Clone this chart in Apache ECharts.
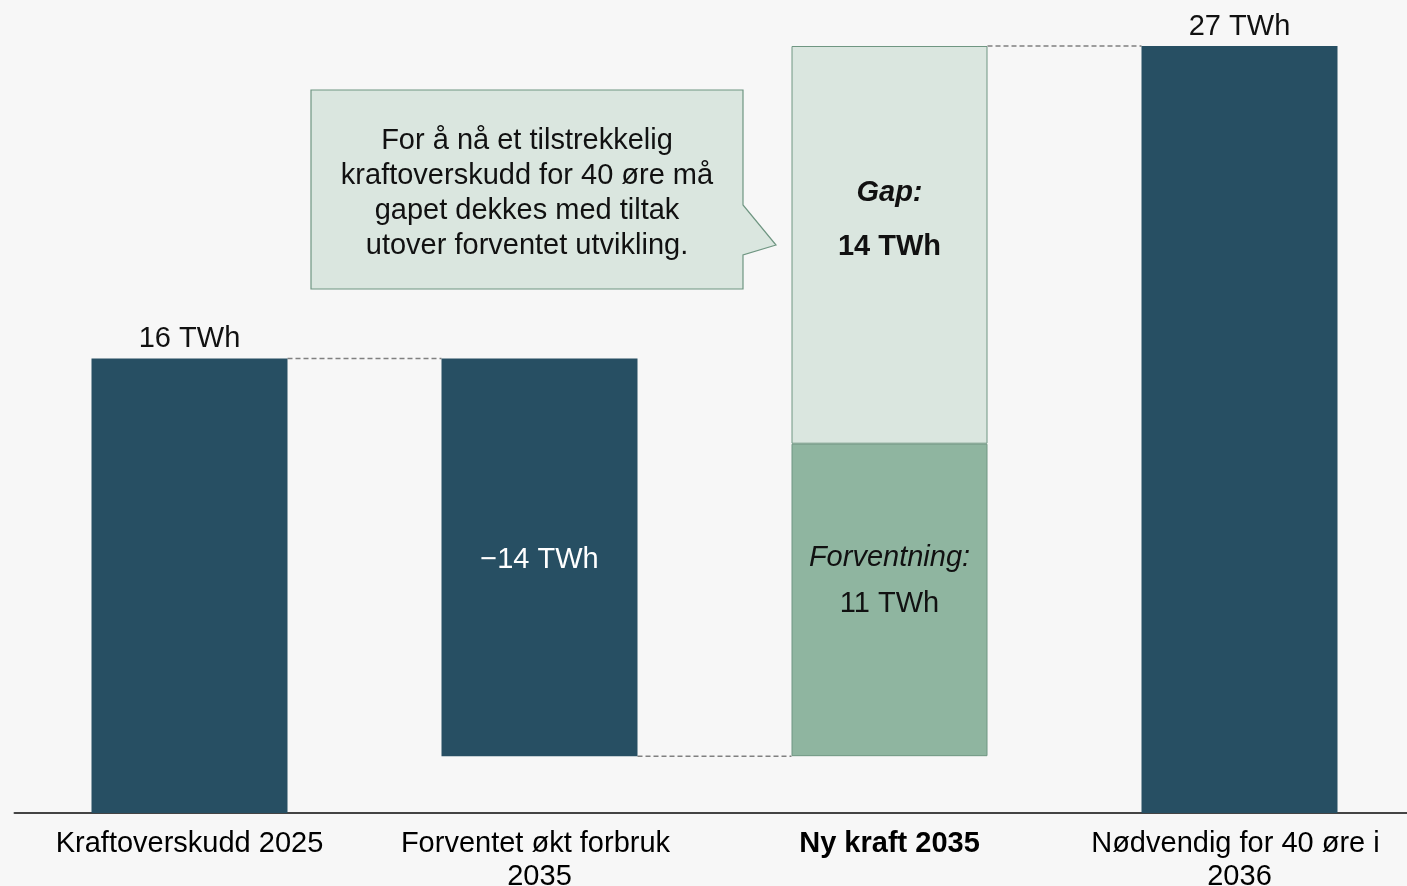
<html>
<head>
<meta charset="utf-8">
<script src="https://cdn.jsdelivr.net/npm/echarts@6/dist/echarts.min.js"></script>
<style>
  html, body { margin: 0; padding: 0; background: #f7f7f7; }
  #main { width: 1407px; height: 886px; }
</style>
</head>
<body>
<div id="main"></div>
<script type="text/javascript">
// data
var categories = ['Kraftoverskudd 2025', 'Forventet økt forbruk 2035', 'Ny kraft 2035', 'Nødvendig for 40 øre i 2036'];
var baseValues = [0, 2, 2, 0];          // usynlig fundament
var mainValues = [16, 14, '-', 27];     // mørke søyler
var expectedValues = ['-', '-', 11, '-'];
var gapValues = ['-', '-', 14, '-'];
var connectorLevels = [16, 2, 27];      // stiplede linjer mellom søylene

var dark = '#274f63';
var font = 'Liberation Sans, Arial, sans-serif';
var fs = 29;

var myChart = echarts.init(document.getElementById('main'));

var mainData = mainValues.map(function (v, i) {
    if (v === '-') return v;
    if (i === 1) {
        return { value: v, label: { show: true, position: 'inside', offset: [0, 3], color: '#fff', formatter: '−' + v + ' TWh' } };
    }
    return { value: v, label: { show: true, position: 'top', distance: 5, color: '#111', formatter: v + ' TWh' } };
});

var connectorData = connectorLevels.map(function (v, i) { return [i, v]; });

var option = {
    backgroundColor: '#f7f7f7',
    textStyle: { fontFamily: font },
    animation: false,
    grid: { left: 14.5, width: 1400, top: 46, bottom: 73, outerBoundsMode: 'none', containLabel: false },
    xAxis: {
        type: 'category',
        data: categories,
        axisLine: { lineStyle: { color: '#444', width: 2 } },
        axisTick: { show: false },
        axisLabel: {
            fontSize: fs,
            color: '#000',
            lineHeight: 33,
            margin: 14,
            interval: 0,
            width: 330,
            overflow: 'break',
            formatter: function (val, idx) {
                return idx === 2 ? '{b|' + val + '}' : val;
            },
            rich: { b: { fontWeight: 'bold', fontSize: fs, color: '#000' } }
        }
    },
    yAxis: {
        type: 'value', min: 0, max: 27, show: false,
        splitLine: { show: false }
    },
    series: [
        {
            type: 'bar', stack: 'w', barWidth: '56%', z: 2,
            itemStyle: { color: 'transparent' },
            data: baseValues
        },
        {
            type: 'bar', stack: 'w', z: 2,
            itemStyle: { color: dark },
            label: { fontSize: fs, fontFamily: font },
            data: mainData
        },
        {
            type: 'bar', stack: 'w', z: 2,
            itemStyle: { color: '#8fb5a0', borderColor: '#6f9682', borderWidth: 1 },
            label: {
                show: true, position: 'inside', offset: [0, -19],
                formatter: function (p) { return '{a|Forventning:}\n{b|' + p.value + ' TWh}'; },
                rich: {
                    a: { fontSize: fs, fontStyle: 'italic', color: '#111', lineHeight: 46, fontFamily: font },
                    b: { fontSize: fs, color: '#111', lineHeight: 46, fontFamily: font }
                }
            },
            data: expectedValues
        },
        {
            type: 'bar', stack: 'w', z: 2,
            itemStyle: { color: '#dae6df', borderColor: '#6f9682', borderWidth: 1 },
            label: {
                show: true, position: 'inside', offset: [0, -25],
                formatter: function (p) { return '{a|Gap:}\n{b|' + p.value + ' TWh}'; },
                rich: {
                    a: { fontSize: fs, fontStyle: 'italic', fontWeight: 'bold', color: '#111', lineHeight: 54, fontFamily: font },
                    b: { fontSize: fs, fontWeight: 'bold', color: '#111', lineHeight: 54, fontFamily: font }
                }
            },
            data: gapValues
        },
        {
            type: 'custom', z: 1,
            renderItem: function (params, api) {
                var i = api.value(0), v = api.value(1);
                var p1 = api.coord([i, v]);
                var p2 = api.coord([i + 1, v]);
                var half = api.size([1, 0])[0] * 0.28;
                return {
                    type: 'line',
                    shape: { x1: p1[0] + half, y1: p1[1], x2: p2[0] - half, y2: p2[1] },
                    style: { stroke: '#808080', lineWidth: 1.5, lineDash: [5, 3] }
                };
            },
            data: connectorData
        }
    ],
    graphic: [
        {
            type: 'polygon', z: 10,
            shape: { points: [[311, 90], [743, 90], [743, 205], [776, 245], [743, 255], [743, 289], [311, 289]] },
            style: { fill: '#dae6df', stroke: '#6f9682', lineWidth: 1.2 }
        },
        {
            type: 'text', z: 11,
            x: 527, y: 193,
            style: {
                text: 'For å nå et tilstrekkelig\nkraftoverskudd for 40 øre må\ngapet dekkes med tiltak\nutover forventet utvikling.',
                fontSize: fs, lineHeight: 35, fontFamily: font, fill: '#111',
                align: 'center', verticalAlign: 'middle'
            }
        }
    ]
};

myChart.setOption(option);
</script>
</body>
</html>
